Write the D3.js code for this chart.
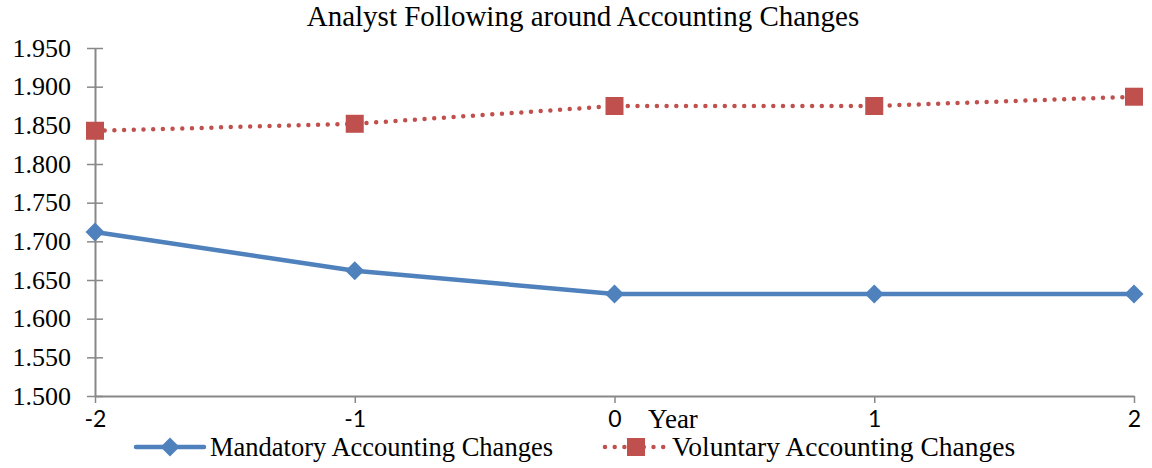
<!DOCTYPE html>
<html>
<head>
<meta charset="utf-8">
<script src="https://cdn.jsdelivr.net/npm/d3@7"></script>
<style>
  body { margin: 0; background: #fff; }
  #chart { width: 1152px; height: 468px; }
</style>
</head>
<body>
<div id="chart"></div>
<script>
// data
const years = [-2, -1, 0, 1, 2];
const mandatory = [1.712, 1.662, 1.632, 1.632, 1.632];
const voluntary = [1.843, 1.852, 1.875, 1.875, 1.887];
const yTicks = [1.5, 1.55, 1.6, 1.65, 1.7, 1.75, 1.8, 1.85, 1.9, 1.95];
const seriesNames = ["Mandatory Accounting Changes", "Voluntary Accounting Changes"];

const width = 1152, height = 468;
const margin = { top: 48, right: 18, bottom: 72, left: 95 };
const serif = "'Liberation Serif', 'Times New Roman', serif";
const sans = "Lato, 'Liberation Sans', sans-serif";
const blue = "#4f81bd", red = "#c0504d", axisCol = "#888";

const svg = d3.select("#chart").append("svg")
  .attr("width", width).attr("height", height);

const x = d3.scaleLinear().domain([-2, 2]).range([margin.left, width - margin.right]);
const y = d3.scaleLinear().domain([1.5, 1.95]).range([height - margin.bottom, margin.top]);

// title
svg.append("text")
  .attr("x", 583).attr("y", 26)
  .attr("text-anchor", "middle")
  .style("font-family", serif).style("font-size", "29px")
  .text("Analyst Following around Accounting Changes");

// y axis (ticks cross the line)
const yAxis = svg.append("g")
  .attr("transform", `translate(${margin.left},0)`)
  .call(d3.axisLeft(y).tickValues(yTicks).tickFormat(d3.format(".3f")).tickSize(0).tickPadding(24));
yAxis.select(".domain").attr("stroke", axisCol).attr("stroke-width", 2);
yAxis.selectAll(".tick line").attr("x1", -8).attr("x2", 8).attr("stroke", axisCol).attr("stroke-width", 1.5);
yAxis.selectAll(".tick text").style("font-family", serif).style("font-size", "26px").attr("fill", "#000");

// x axis (plain hyphen for negatives)
const xAxis = svg.append("g")
  .attr("transform", `translate(0,${height - margin.bottom})`)
  .call(d3.axisBottom(x).tickValues(years).tickFormat(d => String(d)).tickSizeInner(7).tickSizeOuter(0).tickPadding(8));
xAxis.select(".domain").attr("stroke", axisCol).attr("stroke-width", 2);
xAxis.selectAll(".tick line").attr("stroke", axisCol).attr("stroke-width", 1.5);
xAxis.selectAll(".tick text").style("font-family", sans).style("font-size", "23px").attr("fill", "#000");

// axis title
svg.append("text")
  .attr("x", 673).attr("y", 428)
  .attr("text-anchor", "middle")
  .style("font-family", serif).style("font-size", "27px")
  .text("Year");

const line = d3.line().x((d, i) => x(years[i])).y(d => y(d));

// mandatory series
svg.append("path").datum(mandatory)
  .attr("d", line).attr("fill", "none")
  .attr("stroke", blue).attr("stroke-width", 4.5).attr("stroke-linejoin", "round");
svg.selectAll(".diamond").data(mandatory).enter().append("path")
  .attr("class", "diamond")
  .attr("d", d3.symbol(d3.symbolDiamond2, 230))
  .attr("transform", (d, i) => `translate(${x(years[i])},${y(d)})`)
  .attr("fill", blue);

// voluntary series
svg.append("path").datum(voluntary)
  .attr("d", line).attr("fill", "none")
  .attr("stroke", red).attr("stroke-width", 4.5)
  .attr("stroke-linecap", "round").attr("stroke-dasharray", "0 9.7");
svg.selectAll(".square").data(voluntary).enter().append("rect")
  .attr("class", "square")
  .attr("x", (d, i) => x(years[i]) - 9).attr("y", d => y(d) - 9)
  .attr("width", 18).attr("height", 18)
  .attr("fill", red);

// legend
const leg = svg.append("g");
const legY = 447;
leg.append("line").attr("x1", 136).attr("x2", 204).attr("y1", legY).attr("y2", legY)
  .attr("stroke", blue).attr("stroke-width", 4.5).attr("stroke-linecap", "round");
leg.append("path").attr("d", d3.symbol(d3.symbolDiamond2, 230))
  .attr("transform", `translate(170,${legY})`).attr("fill", blue);
leg.append("text").attr("x", 210).attr("y", legY + 9)
  .style("font-family", serif).style("font-size", "26.5px").text(seriesNames[0]);

leg.append("line").attr("x1", 605).attr("x2", 666).attr("y1", legY).attr("y2", legY)
  .attr("stroke", red).attr("stroke-width", 4.5).attr("stroke-linecap", "round")
  .attr("stroke-dasharray", "0 9.7");
leg.append("rect").attr("x", 627).attr("y", legY - 9).attr("width", 18).attr("height", 18).attr("fill", red);
leg.append("text").attr("x", 672).attr("y", legY + 9)
  .style("font-family", serif).style("font-size", "27.5px").text(seriesNames[1]);
</script>
</body>
</html>
